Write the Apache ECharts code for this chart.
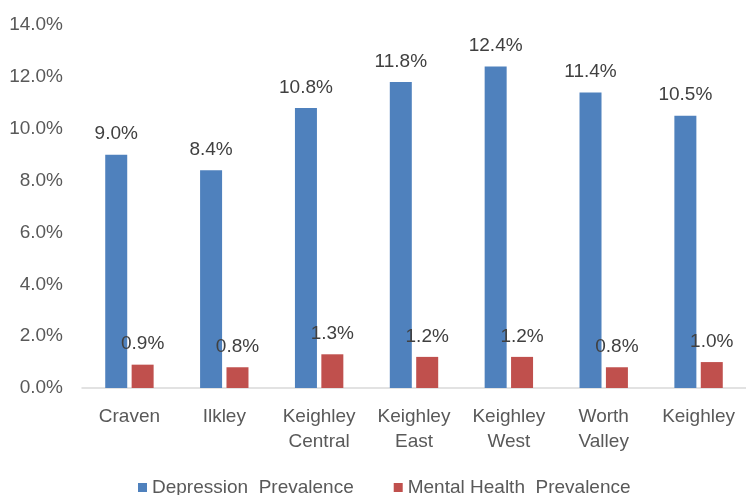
<!DOCTYPE html>
<html>
<head>
<meta charset="utf-8">
<script src="https://cdn.jsdelivr.net/npm/echarts@6/dist/echarts.min.js"></script>
<style>
  html, body { margin: 0; padding: 0; background: #fff; }
  #chart { width: 746px; height: 495px; }
</style>
</head>
<body>
<div id="chart"></div>
<script>
const categories = ["Craven", "Ilkley", "Keighley\nCentral", "Keighley\nEast", "Keighley\nWest", "Worth\nValley", "Keighley"];
const depression = [9.0, 8.4, 10.8, 11.8, 12.4, 11.4, 10.5];
const mentalHealth = [0.9, 0.8, 1.3, 1.2, 1.2, 0.8, 1.0];
const seriesNames = ["Depression  Prevalence", "Mental Health  Prevalence"];

const chart = echarts.init(document.getElementById("chart"));
const font = "Liberation Sans, Arial, sans-serif";
const fs = 19;

const labelStyle = {
  show: true,
  position: "top",
  distance: 11,
  color: "#404040",
  fontFamily: font,
  fontSize: fs,
  formatter: (p) => p.value.toFixed(1) + "%"
};

chart.setOption({
  animation: false,
  textStyle: { fontFamily: font },
  grid: { left: 82, right: 0, top: 25, bottom: 107 },
  legend: {
    top: 478,
    left: 138,
    padding: 0,
    itemWidth: 9,
    itemHeight: 9,
    itemGap: 40,
    textStyle: { color: "#595959", fontSize: fs, fontFamily: font },
    data: seriesNames.map((n) => ({ name: n, icon: "rect" }))
  },
  xAxis: {
    type: "category",
    data: categories,
    axisLine: { lineStyle: { color: "#d9d9d9", width: 1.5 } },
    axisTick: { show: false },
    axisLabel: { color: "#595959", fontSize: fs, lineHeight: 25, margin: 16, interval: 0 }
  },
  yAxis: {
    type: "value",
    min: 0,
    max: 14,
    interval: 2,
    splitLine: { show: false },
    axisLine: { show: false },
    axisTick: { show: false },
    axisLabel: { color: "#595959", fontSize: fs, margin: 19, formatter: (v) => v.toFixed(1) + "%" }
  },
  series: [
    {
      name: seriesNames[0],
      type: "bar",
      data: depression,
      barWidth: 22,
      barGap: "20%",
      itemStyle: { color: "#4f81bd" },
      label: labelStyle
    },
    {
      name: seriesNames[1],
      type: "bar",
      data: mentalHealth,
      barWidth: 22,
      itemStyle: { color: "#c0504d" },
      label: labelStyle
    }
  ]
});
</script>
</body>
</html>
